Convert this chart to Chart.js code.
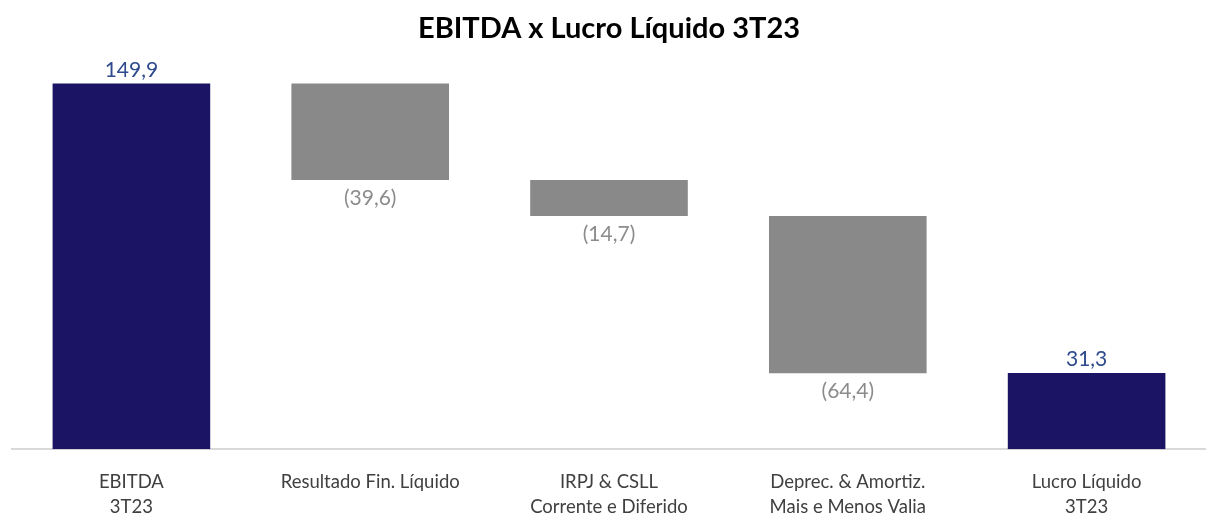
<!DOCTYPE html>
<html>
<head>
<meta charset="utf-8">
<script src="https://cdn.jsdelivr.net/npm/chart.js@4"></script>
<style>
  html, body { margin: 0; padding: 0; background: #fff; }
  #wrap { width: 1206px; height: 517px; }
</style>
</head>
<body>
<div id="wrap"><canvas id="chart"></canvas></div>
<script>
// dados
const categories = [
  ['EBITDA', '3T23'],
  'Resultado Fin. Líquido',
  ['IRPJ & CSLL', 'Corrente e Diferido'],
  ['Deprec. & Amortiz.', 'Mais e Menos Valia'],
  ['Lucro Líquido', '3T23']
];
const values = [149.9, -39.6, -14.7, -64.4, 31.3];
const isTotal = [true, false, false, false, true];

const NAVY = '#1b1464';
const GRAY = '#898989';

// monta as barras flutuantes
let running = 0;
const ranges = values.map((v, i) => {
  if (isTotal[i]) { running = v; return [0, v]; }
  const start = running;
  running += v;
  return [start, running];
});

const fmt = v => {
  const s = Math.abs(v).toFixed(1).replace('.', ',');
  return v < 0 ? '(' + s + ')' : s;
};

const labelsPlugin = {
  id: 'valueLabels',
  afterDatasetsDraw(chart) {
    const ctx = chart.ctx;
    const meta = chart.getDatasetMeta(0);
    ctx.save();
    ctx.font = '21px Lato';
    ctx.textAlign = 'center';
    meta.data.forEach((bar, i) => {
      const v = values[i];
      if (v >= 0) {
        ctx.fillStyle = '#2e4a8c';
        ctx.textBaseline = 'bottom';
        ctx.fillText(fmt(v), bar.x, Math.min(bar.y, bar.base) - 3);
      } else {
        ctx.fillStyle = '#8c8c8c';
        ctx.textBaseline = 'top';
        ctx.fillText(fmt(v), bar.x, Math.max(bar.y, bar.base) + 8);
      }
    });
    ctx.restore();
  }
};

new Chart(document.getElementById('chart'), {
  type: 'bar',
  data: {
    labels: categories,
    datasets: [{
      data: ranges,
      backgroundColor: values.map((v, i) => isTotal[i] ? NAVY : GRAY),
      borderWidth: 0,
      barPercentage: 0.66,
      categoryPercentage: 1
    }]
  },
  options: {
    responsive: true,
    maintainAspectRatio: false,
    animation: false,
    layout: { padding: { left: 12, right: 0, top: 0, bottom: -23 } },
    plugins: {
      legend: { display: false },
      tooltip: { enabled: false },
      title: {
        display: true,
        text: 'EBITDA x Lucro Líquido 3T23',
        color: '#000',
        font: { family: 'Lato', size: 29, weight: 'bold' },
        padding: { top: 11, bottom: 13 }
      }
    },
    scales: {
      x: {
        grid: { display: false, drawTicks: false },
        border: { color: '#d9d9d9', width: 2 },
        ticks: {
          color: '#404040',
          padding: 20,
          font: { family: 'Lato', size: 18.5, lineHeight: 1.37 },
          maxRotation: 0,
          autoSkip: false
        }
      },
      y: {
        display: false,
        min: 0,
        max: 160
      }
    }
  },
  plugins: [labelsPlugin]
});
</script>
</body>
</html>
